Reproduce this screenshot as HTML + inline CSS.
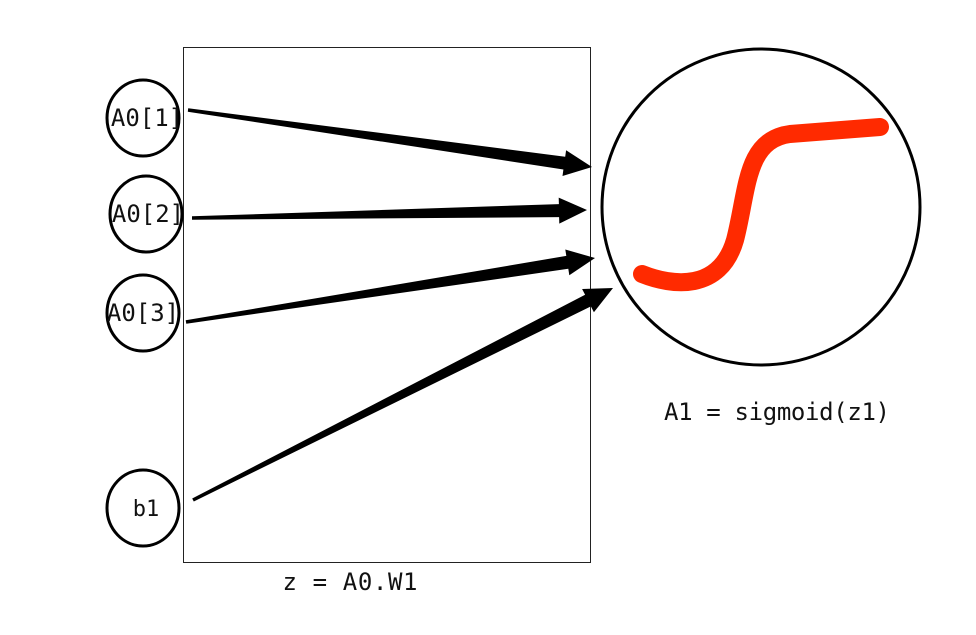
<!DOCTYPE html>
<html><head><meta charset="utf-8"><style>
html,body{margin:0;padding:0;background:#fff;}
svg{display:block;}
text{font-family:"DejaVu Sans Mono","Liberation Mono",monospace;fill:#111;}
</style></head><body>
<svg id="s" width="976" height="635" viewBox="0 0 976 635">
<rect x="183.5" y="47.5" width="407" height="515" fill="none" stroke="#222" stroke-width="1"/>
<g><ellipse cx="143" cy="118" rx="36" ry="38" fill="#fff" stroke="#000" stroke-width="3"/><text x="147" y="126" font-size="24" text-anchor="middle">A0[1]</text></g>
<g><ellipse cx="146" cy="214" rx="36" ry="38" fill="#fff" stroke="#000" stroke-width="3"/><text x="148" y="222" font-size="24" text-anchor="middle">A0[2]</text></g>
<g><ellipse cx="143" cy="313" rx="36" ry="38" fill="#fff" stroke="#000" stroke-width="3"/><text x="143" y="321" font-size="24" text-anchor="middle">A0[3]</text></g>
<g><ellipse cx="143" cy="508" rx="36" ry="38" fill="#fff" stroke="#000" stroke-width="3"/><text x="146" y="516" font-size="22" text-anchor="middle">b1</text></g>
<g id="arrows"></g>
<g>
<ellipse cx="761" cy="207" rx="159" ry="158" fill="none" stroke="#000" stroke-width="3"/>
<path d="M642,274 C672,286 720,292 735,240 C748,190 745,140 790,134 L880,127" fill="none" stroke="#ff2a00" stroke-width="18" stroke-linecap="round" stroke-linejoin="round"/>
</g>
<text x="350" y="590" font-size="24" text-anchor="middle" textLength="135">z = A0.W1</text>
<text x="777" y="420" font-size="24" text-anchor="middle" textLength="226">A1 = sigmoid(z1)</text>
</svg>
<script>
const arrowStarts=[[188,110],[192,218],[186,322],[193,500]];
const arrowEnds=[[592,167],[587,210],[595,258],[613,288]];
const g=document.getElementById('arrows');
arrowStarts.forEach((s,i)=>{
 const e=arrowEnds[i];
 const dx=e[0]-s[0],dy=e[1]-s[1],L=Math.hypot(dx,dy),ux=dx/L,uy=dy/L,nx=-uy,ny=ux;
 const hl=28,w0=1.7,w1=6.5,hw=13;
 const bx=e[0]-ux*hl,by=e[1]-uy*hl;
 const p=[[s[0]+nx*w0,s[1]+ny*w0],[bx+nx*w1,by+ny*w1],[bx+nx*hw,by+ny*hw],e,[bx-nx*hw,by-ny*hw],[bx-nx*w1,by-ny*w1],[s[0]-nx*w0,s[1]-ny*w0]];
 const el=document.createElementNS('http://www.w3.org/2000/svg','polygon');
 el.setAttribute('points',p.map(q=>q[0].toFixed(1)+','+q[1].toFixed(1)).join(' '));
 el.setAttribute('fill','#000');
 
 
 g.appendChild(el);
});
</script>
</body></html>
